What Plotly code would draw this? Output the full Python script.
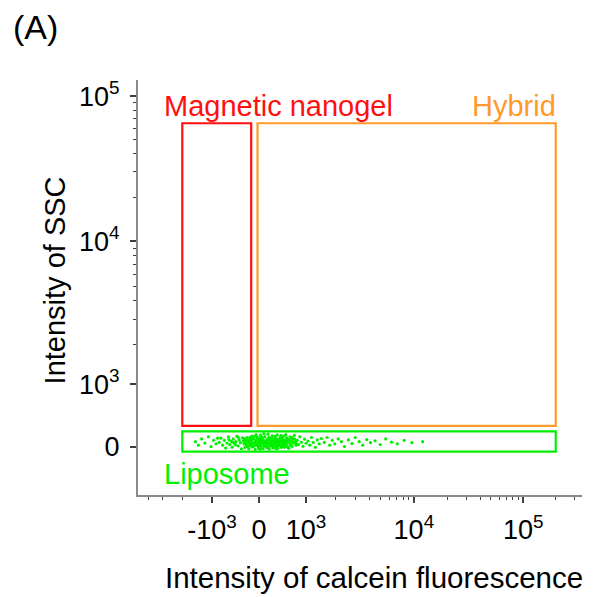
import numpy as np
import plotly.graph_objects as go

# ---------------------------------------------------------------------------
# Biexponential (logicle-style) display transform used for both axes
# ---------------------------------------------------------------------------
P = 1.5          # shape of the linear-ish region around zero
SCALE = 354.0    # data units per unit of the exponential branch

_u = np.linspace(0.0, 10.0, 40001)
_s = SCALE * (np.exp(_u) - P ** 2 * np.exp(-_u / P) + P ** 2 - 1.0)


def to_axis(v):
    """Map raw intensity values onto the biexponential display coordinate."""
    v = np.asarray(v, dtype=float)
    return np.sign(v) * np.interp(np.abs(v), _s, _u)


# ---------------------------------------------------------------------------
# Axis ticks
# ---------------------------------------------------------------------------
x_major = [-1e3, 0, 1e3, 1e4, 1e5]
x_major_text = ["-10<sup>3</sup>", "0", "10<sup>3</sup>", "10<sup>4</sup>", "10<sup>5</sup>"]
x_minor = [-4000, -3000, -2000,
           2000, 3000, 4000, 5000, 6000, 7000, 8000, 9000,
           20000, 30000, 40000, 50000, 60000, 70000, 80000, 90000,
           200000, 300000]

y_major = [0, 1e3, 1e4, 1e5]
y_major_text = ["0", "10<sup>3</sup>", "10<sup>4</sup>", "10<sup>5</sup>"]
y_minor = [2000, 3000, 4000, 5000, 6000, 7000, 8000, 9000,
           20000, 30000, 40000, 50000, 60000, 70000, 80000, 90000]

x_limits = [-5000, 350000]
y_limits = [-740, 130000]

# ---------------------------------------------------------------------------
# Gates (raw fluorescence / SSC bounds)
# ---------------------------------------------------------------------------
gate_names = ["Magnetic nanogel", "Hybrid", "Liposome"]
gate_fl_min = [-2000, -30, -2000]
gate_fl_max = [-150, 200000, 200000]
gate_ssc_min = [300, 300, -70]
gate_ssc_max = [65000, 65000, 220]
gate_colors = ["#ff1010", "#ff9a2a", "#00f000"]

# ---------------------------------------------------------------------------
# Liposome events (calcein fluorescence, SSC)
# ---------------------------------------------------------------------------
core_events = [
    (-290, 40), (-270, -12), (-255, 88), (-240, 22), (-225, 130), (-210, 60),
    (-195, -30), (-180, 102), (-168, 12), (-155, 70), (-140, 150), (-128, -5),
    (-115, 48), (-100, 112), (-88, 28), (-75, -40), (-62, 84), (-50, 16),
    (-38, 138), (-25, 55), (-12, -20), (0, 96), (12, 34), (24, 165), (36, 4),
    (48, 72), (60, 120), (72, -28), (84, 52), (96, 10), (108, 140), (120, 66),
    (132, -8), (144, 98), (156, 30), (168, 178), (180, 46), (192, -35), (204, 82),
    (216, 122), (228, 14), (240, 62), (252, 155), (264, -18), (276, 90), (288, 36),
    (300, 118), (312, 6), (324, 76), (336, 44), (348, 168), (360, -25), (372, 100),
    (384, 58), (396, 20), (408, 132), (420, 80), (432, -10), (444, 50), (456, 110),
    (468, 26), (480, 150), (492, 68), (504, -4), (516, 92), (528, 38), (540, 126),
    (552, 12), (564, 74), (576, 104), (588, -22), (600, 56), (615, 140), (630, 30),
    (645, 86), (660, 0), (675, 114), (690, 48), (710, 160), (730, 70), (750, 18),
    (-280, 115), (-248, 52), (-218, -2), (-188, 76), (-158, 34), (-132, 120),
    (-106, 4), (-82, 62), (-58, 170), (-32, 26), (-6, 82), (18, -36), (42, 108),
    (66, 40), (90, 186), (114, 20), (138, 64), (162, -14), (186, 134), (210, 40),
    (234, 96), (258, 2), (282, 58), (306, 146), (330, -30), (354, 86), (378, 28),
    (402, 70), (426, 160), (450, 8), (474, 90), (498, 42), (522, 172), (546, 60),
    (570, -12), (594, 98), (618, 22), (650, 128), (680, 64), (720, 106), (760, 42),
    (100, 24), (124, 86), (148, 46), (172, 110), (196, 6), (220, 72), (244, 124),
    (268, 38), (292, 80), (316, -20), (340, 112), (364, 54), (388, 92), (412, 14),
    (436, 128), (460, 62), (484, -6), (508, 84), (25, 60), (50, 140), (75, 94),
    (150, 56), (200, 92), (250, 30), (300, 70), (350, 10), (400, 96), (450, 44),
    (-270, 68), (-230, 94), (-200, 36), (-170, 128), (-145, 86), (-120, 24),
    (-90, 146), (-65, 38), (-40, 100), (-15, 14), (8, 120), (30, 78),
]

shoulder_events = [
    (-820, 60), (-780, 120), (-740, 20), (-700, 90), (-670, -20), (-640, 50),
    (-610, 140), (-580, 30), (-555, 80), (-530, -8), (-505, 110), (-480, 44),
    (-455, 70), (-430, 150), (-405, 10), (-385, 96), (-360, 56), (-340, -30),
    (-320, 124), (-300, 82), (-600, 100), (-520, 64), (-460, 26), (-400, 130),
    (780, 90), (810, 30), (840, 140), (880, 62), (920, 4), (960, 108), (1000, 48),
    (1050, 80), (1100, 20), (1150, 130), (1200, 60), (1260, -10), (1320, 96),
    (1380, 40), (1450, 116),
]

tail_events = [
    (-1500, 70), (-1400, 20), (-1300, 110), (-1200, 50), (-1100, 140), (-1030, 0),
    (-960, 90), (-900, 40), (-860, 120),
    (1550, 60), (1650, 130), (1750, 20), (1850, 90), (1950, 40), (2100, 110),
    (2250, 70), (2400, 0), (2600, 96), (2800, 44), (3000, 130), (3250, 70),
    (3500, 20), (3800, 100), (4100, 56), (4500, 84), (5000, 30), (5600, 110),
    (6300, 64), (7100, 40), (8200, 90), (9600, 56), (12000, 70),
]

events = core_events + shoulder_events + tail_events
lipo_fl = [e[0] for e in events]
lipo_ssc = [e[1] for e in events]

# ---------------------------------------------------------------------------
# Figure
# ---------------------------------------------------------------------------
FONT = "Liberation Sans, Arial, sans-serif"
AXIS_GREY = "#8a8a8a"
TICK_GREY = "#404040"

fig = go.Figure()

fig.add_trace(go.Scatter(
    x=to_axis(lipo_fl), y=to_axis(lipo_ssc),
    mode="markers",
    marker=dict(color="#00f000", size=3.2, line=dict(width=0)),
    hoverinfo="skip",
))

for name, x0, x1, y0, y1, col in zip(gate_names, gate_fl_min, gate_fl_max,
                                     gate_ssc_min, gate_ssc_max, gate_colors):
    fig.add_shape(type="rect", xref="x", yref="y",
                  x0=float(to_axis(x0)), x1=float(to_axis(x1)),
                  y0=float(to_axis(y0)), y1=float(to_axis(y1)),
                  line=dict(color=col, width=2.2),
                  fillcolor="rgba(0,0,0,0)")

axis_common = dict(
    showline=True, linecolor=AXIS_GREY, linewidth=2, mirror=False,
    showgrid=False, zeroline=False,
    tickmode="array", ticks="outside", ticklen=6, tickwidth=1.6,
    tickcolor=TICK_GREY, tickfont=dict(size=27, family=FONT, color="black"),
)

fig.update_xaxes(
    range=to_axis(x_limits).tolist(),
    tickvals=to_axis(x_major).tolist(), ticktext=x_major_text,
    ticklabelstandoff=4,
    minor=dict(tickmode="array", tickvals=to_axis(x_minor).tolist(),
               ticks="outside", ticklen=3, tickwidth=1.2, tickcolor=TICK_GREY,
               showgrid=False),
    **axis_common,
)
fig.update_yaxes(
    range=to_axis(y_limits).tolist(),
    tickvals=to_axis(y_major).tolist(), ticktext=y_major_text,
    ticklabelstandoff=5,
    minor=dict(tickmode="array", tickvals=to_axis(y_minor).tolist(),
               ticks="outside", ticklen=3, tickwidth=1.2, tickcolor=TICK_GREY,
               showgrid=False),
    **axis_common,
)

annotations = [
    dict(text="(A)", x=-0.286, y=1.128, xanchor="left", yanchor="middle",
         font=dict(size=34, color="black")),
    dict(text="Intensity of SSC", x=-0.188, y=0.516, textangle=-90,
         xanchor="center", yanchor="middle", font=dict(size=29, color="black")),
    dict(text="Intensity of calcein fluorescence", x=0.5315, y=-0.198,
         xanchor="center", yanchor="middle", font=dict(size=29.5, color="black")),
    dict(text="Magnetic nanogel", x=0.054, y=0.937, xanchor="left",
         yanchor="middle", font=dict(size=29, color=gate_colors[0])),
    dict(text="Hybrid", x=0.946, y=0.937, xanchor="right",
         yanchor="middle", font=dict(size=29, color=gate_colors[1])),
    dict(text="Liposome", x=0.054, y=0.051, xanchor="left",
         yanchor="middle", font=dict(size=29, color=gate_colors[2])),
]
for a in annotations:
    a.update(xref="paper", yref="paper", showarrow=False)
    a["font"]["family"] = FONT

fig.update_layout(
    width=597, height=597,
    margin=dict(l=138, r=15, t=80, b=102),
    paper_bgcolor="white", plot_bgcolor="white",
    showlegend=False,
    font=dict(family=FONT, color="black"),
    annotations=annotations,
)

fig.write_html("out.html")
